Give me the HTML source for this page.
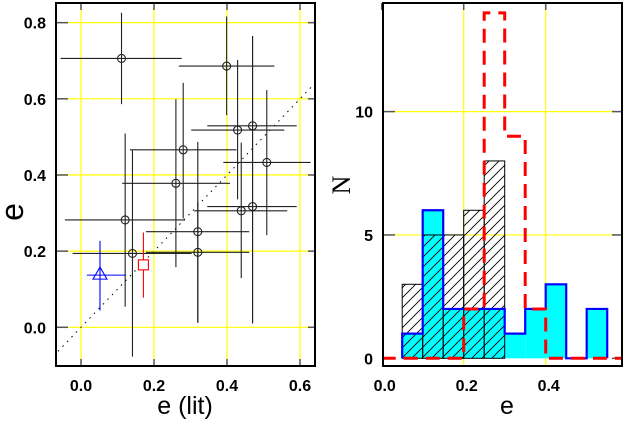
<!DOCTYPE html>
<html><head><meta charset="utf-8"><style>
body{margin:0;background:#fff;width:624px;height:422px;overflow:hidden}
svg text{font-family:"Liberation Sans",sans-serif;font-weight:bold}
svg text.t{font-weight:normal}
</style></head><body>
<svg id="c" width="624" height="422"></svg>
<script>
// Left panel data
const ptX=[0.111,0.399,0.429,0.470,0.509,0.280,0.260,0.121,0.141,0.320,0.320,0.439,0.470];
const ptY=[0.706,0.686,0.518,0.529,0.433,0.466,0.378,0.282,0.194,0.251,0.197,0.306,0.317];
const xLo=[-0.056,0.268,0.302,0.346,0.390,0.134,0.113,-0.044,-0.023,0.178,0.178,0.310,0.346];
const xHi=[0.276,0.530,0.557,0.591,0.629,0.426,0.408,0.285,0.303,0.461,0.461,0.565,0.591];
const yLo=[0.586,0.557,0.336,0.010,0.242,0.286,0.158,0.054,-0.077,0.012,0.012,0.129,0.010];
const yHi=[0.826,0.816,0.702,0.765,0.623,0.642,0.599,0.509,0.466,0.487,0.330,0.485,0.765];
const triPt=[0.052,0.137,0.016,0.123,0.044,0.227];
const sqPt=[0.171,0.164,0.078,0.249];
const lxTicks=["0.0","0.2","0.4","0.6"];
const lyTicks=["0.0","0.2","0.4","0.6","0.8"];
// Right panel data
const binStarts=[0.05,0.10,0.15,0.20,0.25,0.30,0.35,0.40,0.45,0.50];
const hatchN=[3,5,5,6,8,0,0,0,0,0];
const cyanN=[1,6,2,2,2,1,2,3,0,2];
const redN=[0,0,0,2,14,9,2,0,0,0];
const rxTicks=["0.0","0.2","0.4"];
const ryTicks=["0","5","10"];

const NS="http://www.w3.org/2000/svg",svg=document.getElementById('c');
function el(t,a,p){const e=document.createElementNS(NS,t);for(const k in a)e.setAttribute(k,a[k]);(p||svg).appendChild(e);return e;}
const lx=v=>81+365*v, ly=v=>327.3-380.8*v;
const rx=v=>381.7+410*v, ry=n=>358.3-24.67*n;
const L={x0:56,x1:315,y0:3,y1:366}, R={x0:383,x1:622,y0:3,y1:366};

el('defs',{}).innerHTML='<clipPath id="cl"><rect x="56" y="3" width="259" height="363"/></clipPath><clipPath id="cr"><rect x="383" y="3" width="239" height="363"/></clipPath><pattern id="hat" width="10" height="10" patternUnits="userSpaceOnUse"><path d="M-2,12 L12,-2 M-2,2 L2,-2 M8,12 L12,8" stroke="#000" stroke-width="0.9"/></pattern>';

// left panel
let g=el('g',{});

lxTicks.forEach(t=>{const v=+t,x=lx(v);
 const l=el('line',{x1:x,y1:L.y0,x2:x,y2:L.y1,stroke:'#ffff00','stroke-width':1.2},g);
 el('line',{x1:x,y1:L.y1,x2:x,y2:L.y1-7,stroke:'#555','stroke-width':1.5},g);el('line',{x1:x,y1:L.y0,x2:x,y2:L.y0+7,stroke:'#555','stroke-width':1.5},g);
 const tx=el('text',{x:x,y:391,'font-size':16,'text-anchor':'middle'},g);tx.textContent=t;});
lyTicks.forEach(t=>{const v=+t,y=ly(v);
 const l=el('line',{x1:L.x0,y1:y,x2:L.x1,y2:y,stroke:'#ffff00','stroke-width':1.2},g);
 el('line',{x1:L.x0,y1:y,x2:L.x0+12,y2:y,stroke:'#555','stroke-width':1.5},g);el('line',{x1:L.x1,y1:y,x2:L.x1-7,y2:y,stroke:'#555','stroke-width':1.5},g);
 const tx=el('text',{x:46,y:y+6,'font-size':16,'text-anchor':'end'},g);tx.textContent=t;});
let cg=el('g',{'clip-path':'url(#cl)'},g);
let d=el('line',{x1:lx(-0.1),y1:ly(-0.1),x2:lx(0.7),y2:ly(0.7),stroke:'#000','stroke-width':1,'stroke-dasharray':'1.5,5'},cg);

ptX.forEach((v,i)=>{const pg=el('g',{stroke:'#222','stroke-width':1.1,fill:'none'},cg);
 
 el('line',{x1:lx(xLo[i]),y1:ly(ptY[i]),x2:lx(xHi[i]),y2:ly(ptY[i])},pg);
 el('line',{x1:lx(v),y1:ly(yLo[i]),x2:lx(v),y2:ly(yHi[i])},pg);
 el('circle',{cx:lx(v),cy:ly(ptY[i]),r:4},pg);});
let tg=el('g',{stroke:'#0000ff','stroke-width':1.1,fill:'none'},cg);

{const x=lx(triPt[0]),y=ly(triPt[1]);
 el('line',{x1:lx(triPt[2]),y1:y,x2:lx(triPt[3]),y2:y},tg);el('line',{x1:x,y1:ly(triPt[4]),x2:x,y2:ly(triPt[5])},tg);
 el('polygon',{points:`${x},${y-8} ${x-7},${y+4} ${x+7},${y+4}`},tg);}
let sg=el('g',{stroke:'#ff0000','stroke-width':1.1,fill:'none'},cg);

{const x=lx(sqPt[0]),y=ly(sqPt[1]);el('line',{x1:x,y1:ly(sqPt[2]),x2:x,y2:ly(sqPt[3])},sg);el('rect',{x:x-5,y:y-5,width:10,height:10,fill:'#fff'},sg);}
el('rect',{x:L.x0,y:L.y0,width:L.x1-L.x0,height:L.y1-L.y0,fill:'none',stroke:'#000','stroke-width':2},g);
let t1=el('text',{x:185,y:414,'font-size':25,'text-anchor':'middle',class:'t'},g);t1.textContent='e (lit)';
let t2=el('text',{x:23,y:212,'font-size':32,'text-anchor':'middle',class:'t',transform:'rotate(-90 23 212)'},g);t2.textContent='e';

// right panel
let h=el('g',{});

rxTicks.forEach(t=>{const v=+t,x=rx(v);
 if(v>0){const l=el('line',{x1:x,y1:R.y0,x2:x,y2:R.y1,stroke:'#ffff00','stroke-width':1.2},h);}
 el('line',{x1:x,y1:R.y0,x2:x,y2:R.y0+7,stroke:'#555','stroke-width':1.5},h);
 const tx=el('text',{x:x+3,y:391,'font-size':16,'text-anchor':'middle'},h);tx.textContent=t;});
ryTicks.forEach(t=>{const v=+t,y=ry(v);
 if(v>0){const l=el('line',{x1:R.x0,y1:y,x2:R.x1,y2:y,stroke:'#ffff00','stroke-width':1.2},h);}
 el('line',{x1:R.x0,y1:y,x2:R.x0+12,y2:y,stroke:'#555','stroke-width':1.5},h);el('line',{x1:R.x1,y1:y,x2:R.x1-10,y2:y,stroke:'#555','stroke-width':1.5},h);
 const tx=el('text',{x:373,y:y+6,'font-size':16,'text-anchor':'end'},h);tx.textContent=t;});
let hg=el('g',{'clip-path':'url(#cr)'},h);
const w=0.05;
binStarts.forEach((b,i)=>{if(cyanN[i]>0){const r=el('rect',{x:rx(b),y:ry(cyanN[i]),width:rx(b+w)-rx(b),height:ry(0)-ry(cyanN[i]),fill:'#00ffff'},hg);}});
binStarts.forEach((b,i)=>{if(hatchN[i]>0){const r=el('rect',{x:rx(b),y:ry(hatchN[i]),width:rx(b+w)-rx(b),height:ry(0)-ry(hatchN[i]),fill:'url(#hat)',stroke:'#000','stroke-width':1},hg);}});
function stepPath(arr){let p=`M${rx(binStarts[0])},${ry(0)}`;binStarts.forEach((b,i)=>{p+=` L${rx(b)},${ry(arr[i])} L${rx(b+w)},${ry(arr[i])}`;});return p+` L${rx(binStarts[binStarts.length-1]+w)},${ry(0)}`;}
let cp=el('path',{d:stepPath(cyanN),fill:'none',stroke:'#0000ff','stroke-width':2.2},hg);
let rp='M'+rx(0)+','+ry(0);binStarts.forEach((b,i)=>{rp+=` L${rx(b)},${ry(redN[i])} L${rx(b+w)},${ry(redN[i])}`;});rp+=` L${rx(0.6)},${ry(0)}`;
let rr=el('path',{d:rp,fill:'none',stroke:'#ff0000','stroke-width':3,'stroke-dasharray':'14,8'},hg);
el('rect',{x:R.x0,y:R.y0,width:R.x1-R.x0,height:R.y1-R.y0,fill:'none',stroke:'#000','stroke-width':2},h);
let t3=el('text',{x:507,y:414,'font-size':25,'text-anchor':'middle',class:'t'},h);t3.textContent='e';
let t4=el('text',{x:350,y:185,'font-size':26,'text-anchor':'middle',class:'t',style:'font-family:"Liberation Serif",serif',transform:'rotate(-90 350 185)'},h);t4.textContent='N';
</script>
</body></html>
